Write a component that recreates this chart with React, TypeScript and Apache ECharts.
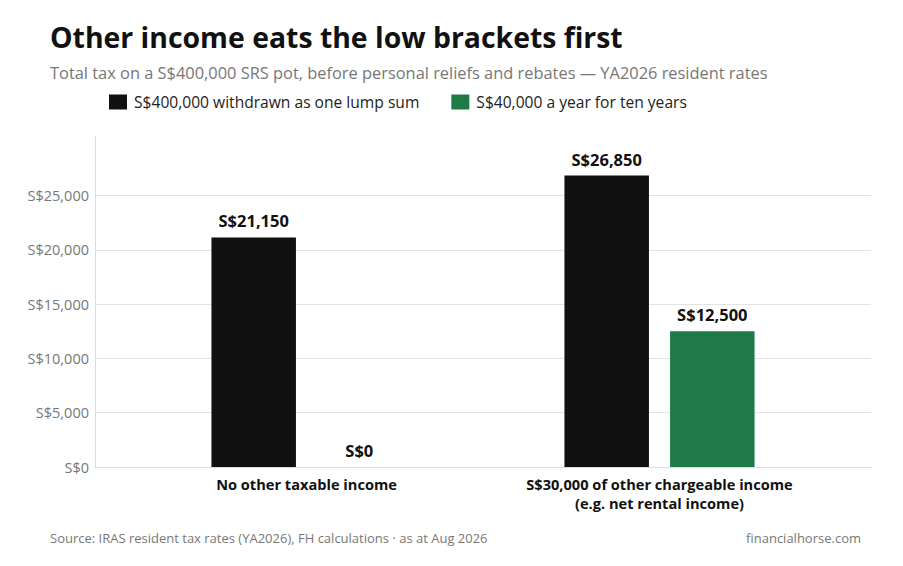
import React, { useEffect, useRef } from "react";
import * as echarts from "echarts";

const categories = [
  "No other taxable income",
  "S$30,000 of other chargeable income\n(e.g. net rental income)",
];
const seriesNames = ["S$400,000 withdrawn as one lump sum", "S$40,000 a year for ten years"];
const lumpSum = [21150, 26850];
const annual = [0, 12500];
const yMax = 30500;
const yStep = 5000;
const lastLabel = 25000;

const FONT = "'Open Sans', 'Noto Sans', sans-serif";
const fmt = (v: number) => "S$" + Math.round(v).toLocaleString("en-US");

export default function App() {
  const ref = useRef<HTMLDivElement>(null);
  useEffect(() => {
    if (!ref.current) return;
    const chart = echarts.init(ref.current, null, { renderer: "svg" });
    const gridTop = 136;
    const gridBottom = 99;
    const labelStyle = {
      show: true,
      position: "top" as const,
      distance: 8,
      formatter: (p: any) => fmt(p.value),
      fontFamily: FONT,
      fontWeight: "bold" as const,
      fontSize: 16.5,
      color: "#111",
    };
    chart.setOption({
      animation: false,
      backgroundColor: "#fff",
      textStyle: { fontFamily: FONT },
      grid: [
        { left: 95, right: 32, top: gridTop, bottom: gridBottom },
        { left: 130, right: 67, top: gridTop, bottom: gridBottom },
      ],
      legend: {
        left: 104,
        top: 89,
        itemWidth: 18,
        itemHeight: 15,
        itemGap: 32,
        icon: "rect",
        data: seriesNames,
        textStyle: { fontFamily: FONT, fontSize: 15.6, color: "#222", padding: [0, 0, 0, 2] },
        selectedMode: false,
      },
      xAxis: [
        {
          gridIndex: 0,
          type: "category",
          data: [""],
          axisLine: { show: true, lineStyle: { color: "#dcdcdc", width: 1 } },
          axisTick: { show: false },
          axisLabel: { show: false },
        },
        {
          gridIndex: 1,
          type: "category",
          data: categories,
          axisLine: { show: false },
          axisTick: { show: false },
          axisLabel: {
            margin: 7,
            fontFamily: FONT,
            fontWeight: "bold",
            fontSize: 14.6,
            lineHeight: 19,
            color: "#111",
          },
        },
      ],
      yAxis: [
        {
          gridIndex: 0,
          type: "value",
          min: 0,
          max: yMax,
          interval: yStep,
          axisLine: { show: true, lineStyle: { color: "#dcdcdc", width: 1 } },
          axisTick: { show: false },
          axisLabel: {
            margin: 6,
            fontFamily: FONT,
            fontSize: 14.5,
            color: "#777",
            formatter: (v: number) => (v > lastLabel ? "" : fmt(v)),
          },
          splitLine: {
            show: true,
            lineStyle: {
              color: [
                "rgba(0,0,0,0)",
                "#e3e3e3",
                "#e3e3e3",
                "#e3e3e3",
                "#e3e3e3",
                "#e3e3e3",
                "rgba(0,0,0,0)",
                "rgba(0,0,0,0)",
              ],
              width: 1,
            },
          },
        },
        {
          gridIndex: 1,
          type: "value",
          min: 0,
          max: yMax,
          interval: yStep,
          show: false,
          splitLine: { show: false },
        },
      ],
      series: [
        {
          name: seriesNames[0],
          type: "bar",
          xAxisIndex: 1,
          yAxisIndex: 1,
          data: lumpSum,
          barWidth: 84.5,
          barGap: "25%",
          itemStyle: { color: "#111111" },
          label: labelStyle,
        },
        {
          name: seriesNames[1],
          type: "bar",
          xAxisIndex: 1,
          yAxisIndex: 1,
          data: annual,
          barWidth: 84.5,
          barGap: "25%",
          itemStyle: { color: "#1e7b48" },
          label: labelStyle,
        },
      ],
      graphic: [
        {
          type: "text",
          x: 50,
          y: 37,
          style: {
            text: "Other income eats the low brackets first",
            fontFamily: FONT,
            fontWeight: "bold",
            fontSize: 28.4,
            fill: "#111",
            textVerticalAlign: "middle",
          },
        },
        {
          type: "text",
          x: 50,
          y: 72,
          style: {
            text: "Total tax on a S$400,000 SRS pot, before personal reliefs and rebates \u2014 YA2026 resident rates",
            fontFamily: FONT,
            fontSize: 16.4,
            fill: "#777",
            textVerticalAlign: "middle",
          },
        },
        {
          type: "text",
          x: 50,
          y: 538,
          style: {
            text: "Source: IRAS resident tax rates (YA2026), FH calculations \u00b7 as at Aug 2026",
            fontFamily: FONT,
            fontSize: 13,
            fill: "#777",
            textVerticalAlign: "middle",
          },
        },
        {
          type: "text",
          x: 861,
          y: 538,
          style: {
            text: "financialhorse.com",
            fontFamily: FONT,
            fontSize: 13,
            fill: "#777",
            textAlign: "right",
            textVerticalAlign: "middle",
          },
        },
      ],
    });
    return () => chart.dispose();
  }, []);
  return (
    <div
      ref={ref}
      style={{ position: "fixed", left: 0, top: 0, width: 903, height: 566, background: "#fff" }}
    />
  );
}
